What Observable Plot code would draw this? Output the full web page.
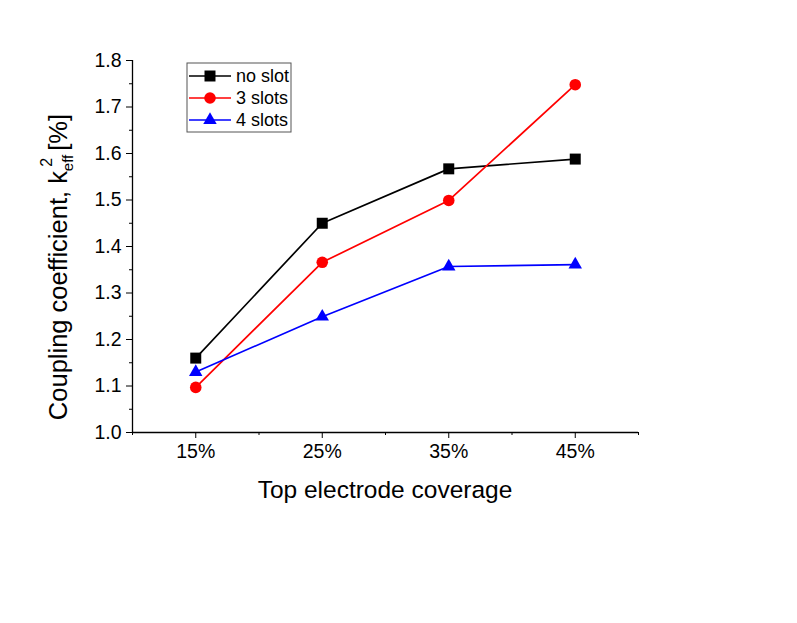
<!DOCTYPE html>
<html>
<head>
<meta charset="utf-8">
<script src="https://cdn.jsdelivr.net/npm/d3@7"></script>
<script src="https://cdn.jsdelivr.net/npm/@observablehq/plot@0.6"></script>
<style>
  html, body { margin: 0; padding: 0; background: #fff; }
  #chart { position: relative; width: 797px; height: 623px; }
  #chart svg g[aria-label="x-axis tick label"] text,
  #chart svg g[aria-label="y-axis tick label"] text { font-size: 19.5px !important; fill: #000; }
</style>
</head>
<body>
<div id="chart"></div>
<script>
// ---- data ----
const coverage = [15, 25, 35, 45];
const noSlot = [1.16, 1.45, 1.567, 1.588];
const slots3 = [1.097, 1.366, 1.499, 1.748];
const slots4 = [1.13, 1.249, 1.357, 1.361];
const seriesNames = ["no slot", "3 slots", "4 slots"];
const seriesValues = [noSlot, slots3, slots4];
const seriesColors = ["#000000", "#ff0000", "#0000ff"];
const seriesSymbols = ["square", "circle", "triangle"];
const seriesR = [6.2, 5.8, 5];
const xMajor = [15, 25, 35, 45];
const xMinor = [10, 20, 30, 40, 50];
const yMajor = [1.0, 1.1, 1.2, 1.3, 1.4, 1.5, 1.6, 1.7, 1.8];
const yMinor = [1.05, 1.15, 1.25, 1.35, 1.45, 1.55, 1.65, 1.75];
const xTitle = "Top electrode coverage";

const rows = [];
seriesNames.forEach((name, i) => {
  coverage.forEach((c, j) => rows.push({series: name, idx: i, x: c, y: seriesValues[i][j]}));
});

const marks = [];
// axes
marks.push(Plot.axisX(xMajor, {tickSize: 6, tickPadding: 6, tickFormat: d => d + "%", label: null}));
marks.push(Plot.axisX(xMinor, {tickSize: 3, tickFormat: () => "", label: null}));
marks.push(Plot.axisY(yMajor, {tickSize: 6, tickPadding: 5, tickFormat: d => d.toFixed(1), label: null}));
marks.push(Plot.axisY(yMinor, {tickSize: 3, tickFormat: () => "", label: null}));
marks.push(Plot.ruleX([10], {stroke: "#000", strokeWidth: 1.3}));
marks.push(Plot.ruleY([1.0], {stroke: "#000", strokeWidth: 1.3}));
// series
seriesNames.forEach((name, i) => {
  const d = rows.filter(r => r.idx === i);
  marks.push(Plot.line(d, {x: "x", y: "y", stroke: seriesColors[i], strokeWidth: 1.7}));
});
seriesNames.forEach((name, i) => {
  const d = rows.filter(r => r.idx === i);
  marks.push(Plot.dot(d, {x: "x", y: "y", symbol: seriesSymbols[i], fill: seriesColors[i], stroke: "none", r: seriesR[i]}));
});

const svg = Plot.plot({
  width: 797,
  height: 623,
  marginLeft: 132,
  marginRight: 159,
  marginTop: 60,
  marginBottom: 191,
  style: {fontFamily: "'Liberation Sans', Arial, sans-serif", fontSize: "19px", color: "#000", background: "#fff"},
  x: {domain: [10, 50], axis: null},
  y: {domain: [1.0, 1.8], axis: null},
  marks
});

const s = d3.select(svg);
// x axis title
s.append("text")
  .attr("x", 385).attr("y", 498)
  .attr("text-anchor", "middle")
  .attr("font-size", 24.5)
  .attr("fill", "#000")
  .text(xTitle);

// y axis title with subscript / superscript
const yt = s.append("text")
  .attr("transform", "translate(67,267) rotate(-90)")
  .attr("text-anchor", "middle")
  .attr("font-size", 25.5)
  .attr("fill", "#000");
yt.append("tspan").text("Coupling coefficient, k");
yt.append("tspan").attr("font-size", 15).attr("dy", 6).text("eff");
yt.append("tspan").attr("font-size", 16).attr("dx", -12).attr("dy", -21).text("2");
yt.append("tspan").attr("dy", 15).text(" [%]");

// legend
const lg = s.append("g");
lg.append("rect").attr("x", 187).attr("y", 63).attr("width", 104).attr("height", 69)
  .attr("fill", "#fff").attr("stroke", "#555").attr("stroke-width", 1);
const symTypes = {square: d3.symbolSquare, circle: d3.symbolCircle, triangle: d3.symbolTriangle};
seriesNames.forEach((name, i) => {
  const cy = 76 + 22 * i;
  lg.append("line").attr("x1", 189).attr("x2", 231).attr("y1", cy).attr("y2", cy)
    .attr("stroke", seriesColors[i]).attr("stroke-width", 1.7);
  lg.append("path")
    .attr("transform", `translate(210,${cy})`)
    .attr("d", d3.symbol(symTypes[seriesSymbols[i]], Math.PI * seriesR[i] * seriesR[i])())
    .attr("fill", seriesColors[i]);
  lg.append("text").attr("x", 236).attr("y", cy + 6)
    .attr("text-anchor", "start")
    .attr("font-size", 18).attr("fill", "#000").text(name);
});

document.getElementById("chart").appendChild(svg);
</script>
</body>
</html>
